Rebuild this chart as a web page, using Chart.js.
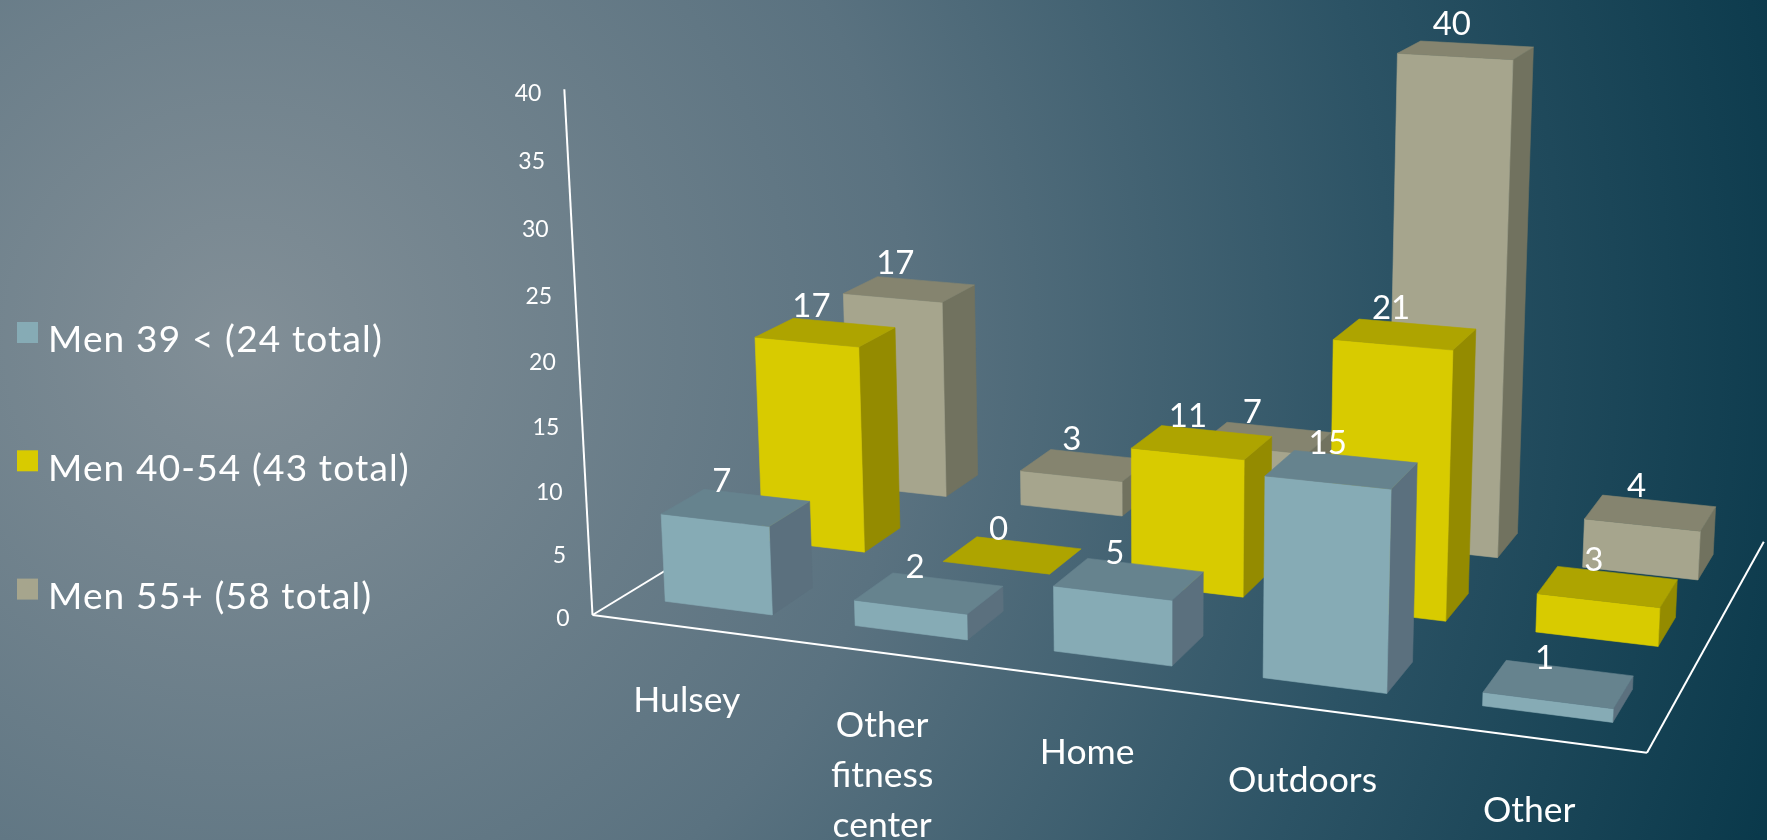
<!DOCTYPE html>
<html>
<head>
<meta charset="utf-8">
<title>Exercise location by age group</title>
<script src="https://cdn.jsdelivr.net/npm/chart.js@4/dist/chart.umd.min.js"></script>
<style>
  html, body { margin: 0; padding: 0; width: 1767px; height: 840px; overflow: hidden; }
  body { background: radial-gradient(circle 1600px at 240px 340px, #828f97 0%, #5a7280 42%, #2c5365 72%, #0a394b 100%); }
  #wrap { position: absolute; left: 0; top: 0; width: 1767px; height: 840px; }
</style>
</head>
<body>
<div id="wrap"><canvas id="chart"></canvas></div>
<script>
// Chart data
const categories = ['Hulsey', ['Other', 'fitness', 'center'], 'Home', 'Outdoors', 'Other'];
const seriesNames = ['Men 39 < (24 total)', 'Men 40-54 (43 total)', 'Men 55+ (58 total)'];
const menUnder40 = [7, 2, 5, 15, 1];
const men40to54 = [17, 0, 11, 21, 3];
const men55plus = [17, 3, 7, 40, 4];
const axisMax = 40;
const axisStep = 5;

// Face colours per series: front, top, side
const palette = [
  { front: '#86abb5', top: '#66838e', side: '#5b707e' },
  { front: '#d8cb00', top: '#aea400', side: '#948b00' },
  { front: '#a6a58d', top: '#85846f', side: '#71725f' }
];

// Perspective camera: three vanishing points and the weight of each axis
const camera = {
  origin: [592.5, 615],
  vanishU: [-7409, -431], weightU: -0.11644,
  vanishV: [1165, 11300], weightV: -0.0469,
  vanishW: [2300, -427], weightW: 0.1925
};
const FONT = 'Lato, sans-serif';
const barDepth = 0.42;
const barNudge = 0.002;

// Maps normalised floor position u, height v and depth w onto the canvas
function project(u, v, w) {
  const a = u * camera.weightU, b = v * camera.weightV, c = w * camera.weightW;
  const d = 1 + a + b + c;
  return [
    (camera.origin[0] + a * camera.vanishU[0] + b * camera.vanishV[0] + c * camera.vanishW[0]) / d,
    (camera.origin[1] + a * camera.vanishU[1] + b * camera.vanishV[1] + c * camera.vanishW[1]) / d
  ];
}

function face(ctx, pts, color) {
  ctx.beginPath();
  pts.forEach((p, i) => i ? ctx.lineTo(p[0], p[1]) : ctx.moveTo(p[0], p[1]));
  ctx.closePath();
  ctx.fillStyle = color;
  ctx.strokeStyle = color;
  ctx.lineWidth = 0.6;
  ctx.fill();
  ctx.stroke();
}

function segment(ctx, p, q) {
  ctx.beginPath();
  ctx.moveTo(p[0], p[1]);
  ctx.lineTo(q[0], q[1]);
  ctx.stroke();
}

// Reads a bar element laid out by Chart.js into floor coordinates
function barBox(chart, datasetIndex, index) {
  const area = chart.chartArea;
  const el = chart.getDatasetMeta(datasetIndex).data[index];
  const slots = chart.data.datasets.length;
  const centre = (el.x - area.left) / area.width + barNudge;
  const half = el.width / area.width / 2;
  return {
    u0: centre - half,
    u1: centre + half,
    v: (chart.scales.y.bottom - el.y) / (chart.scales.y.bottom - chart.scales.y.top),
    w0: (datasetIndex + (1 - barDepth) / 2) / slots,
    w1: (datasetIndex + (1 + barDepth) / 2) / slots
  };
}

const perspectiveBars = {
  id: 'perspectiveBars',
  // The flat rectangles are replaced by prisms
  beforeDatasetDraw() { return false; },
  beforeDatasetsDraw(chart) {
    const ctx = chart.ctx;
    ctx.save();
    ctx.strokeStyle = '#ffffff';
    ctx.lineWidth = 2;
    segment(ctx, project(0, 1, 0), project(0, 0, 0));
    segment(ctx, project(0, 0, 0), project(1, 0, 0));
    segment(ctx, project(1, 0, 0), project(1, 0, 1));
    segment(ctx, project(0, 0, 0), project(0, 0, 1));
    ctx.restore();
  },
  afterDatasetsDraw(chart) {
    const ctx = chart.ctx;
    const area = chart.chartArea;
    const yScale = chart.scales.y;
    const xScale = chart.scales.x;
    ctx.save();

    // Back series first, each from left to right
    for (let d = chart.data.datasets.length - 1; d >= 0; d--) {
      chart.data.datasets[d].data.forEach((value, i) => {
        const b = barBox(chart, d, i);
        const c = palette[d];
        if (b.v > 0) {
          face(ctx, [project(b.u1, 0, b.w0), project(b.u1, 0, b.w1), project(b.u1, b.v, b.w1), project(b.u1, b.v, b.w0)], c.side);
          face(ctx, [project(b.u0, 0, b.w0), project(b.u1, 0, b.w0), project(b.u1, b.v, b.w0), project(b.u0, b.v, b.w0)], c.front);
        }
        face(ctx, [project(b.u0, b.v, b.w0), project(b.u1, b.v, b.w0), project(b.u1, b.v, b.w1), project(b.u0, b.v, b.w1)], c.top);
      });
    }

    ctx.fillStyle = '#ffffff';

    // Value labels above each top face
    ctx.font = '33px ' + FONT;
    ctx.textAlign = 'center';
    ctx.textBaseline = 'middle';
    chart.data.datasets.forEach((ds, d) => {
      ds.data.forEach((value, i) => {
        const b = barBox(chart, d, i);
        const p = project((b.u0 + b.u1) / 2, b.v, (b.w0 + b.w1) / 2);
        ctx.fillText(String(value), p[0] - 14, p[1] - 26);
      });
    });

    // Value axis labels
    ctx.font = '23px ' + FONT;
    ctx.textAlign = 'right';
    yScale.ticks.forEach(t => {
      const v = (yScale.bottom - yScale.getPixelForValue(t.value)) / (yScale.bottom - yScale.top);
      const p = project(0, v, 0);
      ctx.fillText(String(t.value), p[0] - 23, p[1] + 4);
    });

    // Category labels under the front edge
    ctx.font = '35.5px ' + FONT;
    ctx.textAlign = 'center';
    chart.data.labels.forEach((label, i) => {
      const u = (xScale.getPixelForValue(i) - area.left) / area.width;
      const p = project(u, 0, 0);
      [].concat(label).forEach((line, n) => ctx.fillText(line, p[0], p[1] + 73 + n * 50));
    });

    // Legend on the left
    ctx.font = '37px ' + FONT;
    ctx.letterSpacing = '1.15px';
    ctx.textAlign = 'left';
    chart.data.datasets.forEach((ds, d) => {
      const rowY = 338.5 + d * 128.3;
      ctx.fillStyle = palette[d].front;
      ctx.fillRect(17, rowY - 16.5, 21, 21);
      ctx.fillStyle = '#ffffff';
      ctx.fillText(ds.label, 48, rowY + 2);
    });
    ctx.restore();
  }
};

new Chart(document.getElementById('chart'), {
  type: 'bar',
  data: {
    labels: categories,
    datasets: [
      { label: seriesNames[0], data: menUnder40 },
      { label: seriesNames[1], data: men40to54 },
      { label: seriesNames[2], data: men55plus }
    ]
  },
  options: {
    responsive: true,
    maintainAspectRatio: false,
    animation: false,
    events: [],
    layout: { padding: 0 },
    datasets: { bar: { grouped: false, barPercentage: 0.57, categoryPercentage: 1 } },
    plugins: { legend: { display: false }, title: { display: false }, tooltip: { enabled: false } },
    scales: {
      x: { type: 'category', display: false },
      y: { type: 'linear', display: false, min: 0, max: axisMax, ticks: { stepSize: axisStep } }
    }
  },
  plugins: [perspectiveBars]
});
</script>
</body>
</html>
